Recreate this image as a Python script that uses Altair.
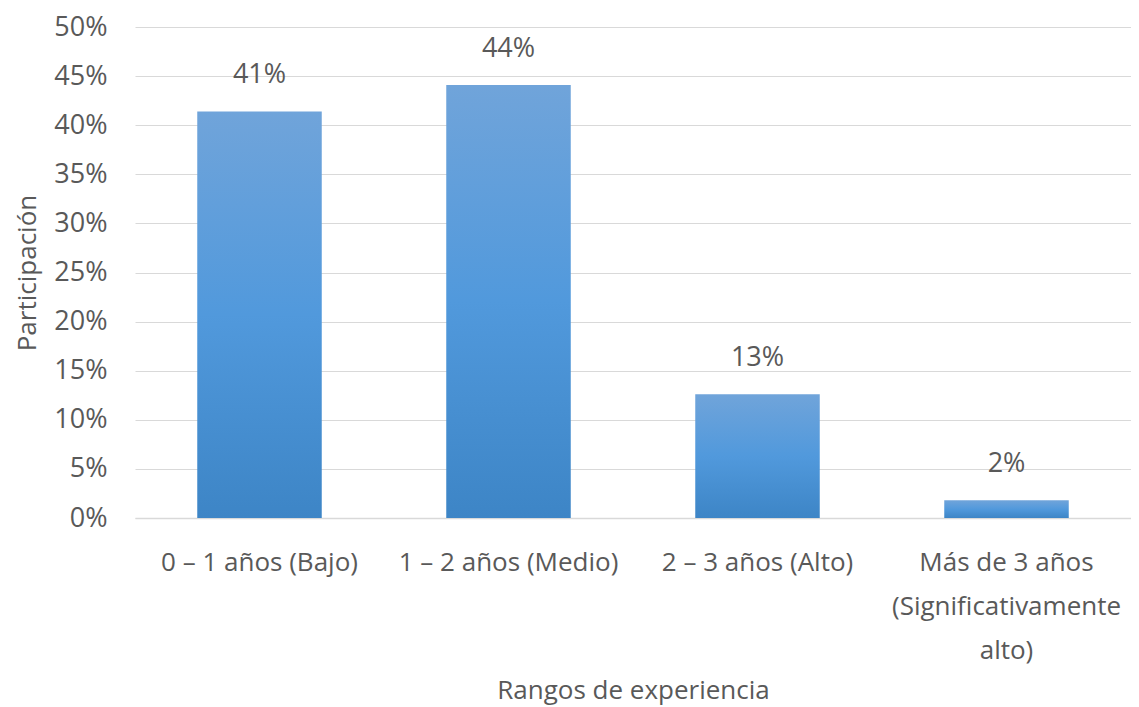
import altair as alt
import pandas as pd

categories = ["0 – 1 años (Bajo)", "1 – 2 años (Medio)", "2 – 3 años (Alto)",
              "Más de 3 años\n(Significativamente\nalto)"]
values = [0.414, 0.441, 0.126, 0.018]
labels = ["41%", "44%", "13%", "2%"]

df = pd.DataFrame({"cat": categories, "val": values, "lab": labels})

FONT = "Open Sans"
GRAY = "#595959"

grad = alt.Gradient(
    gradient="linear",
    stops=[alt.GradientStop(color="#70a4da", offset=0),
           alt.GradientStop(color="#5199dc", offset=0.5),
           alt.GradientStop(color="#3d85c6", offset=1)],
    x1=0, x2=0, y1=0, y2=1,
)

x = alt.X("cat:N", sort=categories,
          scale=alt.Scale(paddingInner=0.5, paddingOuter=0.25),
          axis=alt.Axis(title="Rangos de experiencia", labelAngle=0,
                        labelExpr="split(datum.label, '\\n')", labelLimit=0,
                        labelLineHeight=44, labelFontSize=26, labelFont=FONT,
                        labelColor=GRAY, labelPadding=31, ticks=False,
                        domainColor="#d9d9d9", domainWidth=1.5,
                        titleFont=FONT, titleFontSize=26, titleFontWeight="normal",
                        titleColor=GRAY, titlePadding=14, labelBaseline="top"))
y = alt.Y("val:Q", scale=alt.Scale(domain=[0, 0.5]),
          axis=alt.Axis(title="Participación", format=".0%", values=[i * 0.05 for i in range(11)],
                        labelFontSize=27, labelFont=FONT, labelColor=GRAY,
                        labelPadding=28, ticks=False, domain=False,
                        gridColor="#d9d9d9", gridWidth=1,
                        titleFont=FONT, titleFontSize=26, titleFontWeight="normal",
                        titleColor=GRAY, titlePadding=13))

bars = alt.Chart(df).mark_bar(color=grad).encode(x=x, y=y)
text = alt.Chart(df).mark_text(baseline="bottom", dy=-22, font=FONT, fontSize=27,
                               color=GRAY).encode(x=alt.X("cat:N", sort=categories), y="val:Q", text="lab:N")

chart = (bars + text).properties(
    width=996, height=491,
    autosize=alt.AutoSizeParams(type="none"),
    padding={"left": 127, "top": 19, "right": 0, "bottom": 192},
).configure_view(stroke=None)

chart.save("out.html", embed_options={"renderer": "svg", "actions": False})
